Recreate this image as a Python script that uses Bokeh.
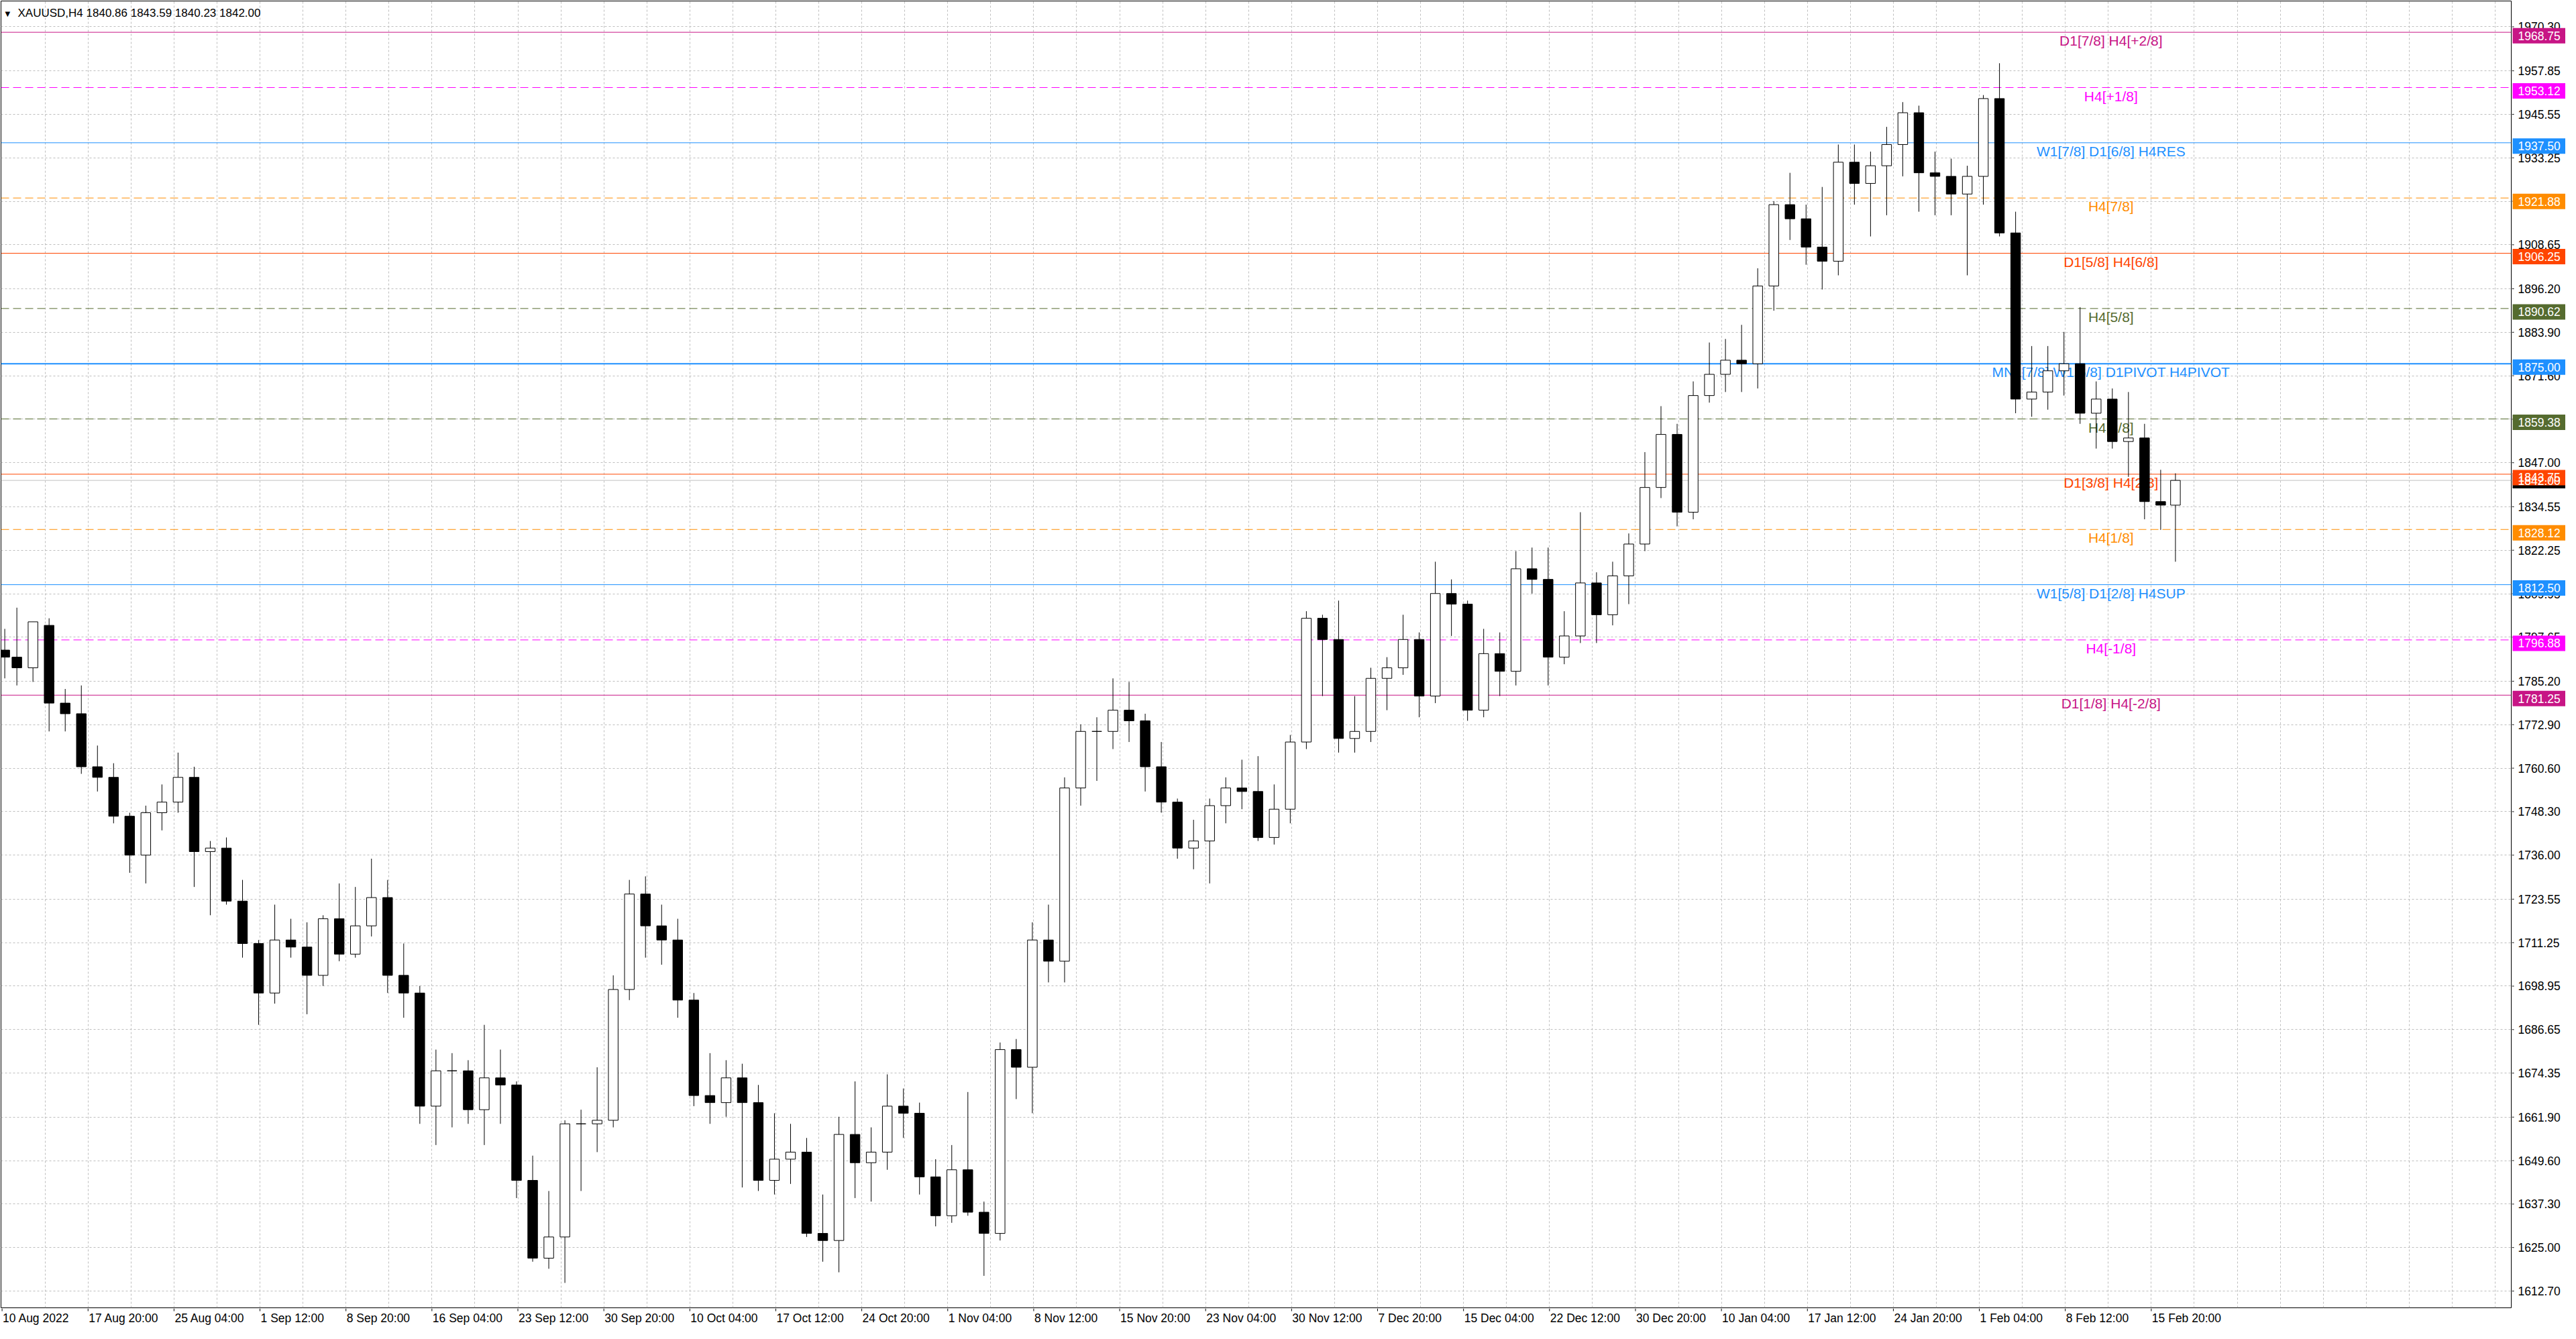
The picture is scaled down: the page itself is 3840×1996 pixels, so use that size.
import numpy as np
from bokeh.plotting import figure
from bokeh.layouts import column, row
from bokeh.models import Range1d, FixedTicker, Span, Label, ColumnDataSource
from bokeh.core.properties import value
from bokeh.embed import file_html
from bokeh.resources import INLINE

# ---------------- data ----------------
symbol_text = "XAUUSD,H4"
last_ohlc = ["1840.86", "1843.59", "1840.23", "1842.00"]
bid_price = 1842.00

days = ["10 Aug", "11 Aug", "12 Aug", "15 Aug", "16 Aug", "17 Aug", "18 Aug", "19 Aug", "22 Aug", "23 Aug",
        "24 Aug", "25 Aug", "26 Aug", "29 Aug", "30 Aug", "31 Aug", "1 Sep", "2 Sep", "5 Sep", "6 Sep",
        "7 Sep", "8 Sep", "9 Sep", "12 Sep", "13 Sep", "14 Sep", "15 Sep", "16 Sep", "19 Sep", "20 Sep",
        "21 Sep", "22 Sep", "23 Sep", "26 Sep", "27 Sep", "28 Sep", "29 Sep", "30 Sep", "3 Oct", "4 Oct",
        "5 Oct", "6 Oct", "7 Oct", "10 Oct", "11 Oct", "12 Oct", "13 Oct", "14 Oct", "17 Oct", "18 Oct",
        "19 Oct", "20 Oct", "21 Oct", "24 Oct", "25 Oct", "26 Oct", "27 Oct", "28 Oct", "31 Oct", "1 Nov",
        "2 Nov", "3 Nov", "4 Nov", "7 Nov", "8 Nov", "9 Nov", "10 Nov", "11 Nov", "14 Nov", "15 Nov",
        "16 Nov", "17 Nov", "18 Nov", "21 Nov", "22 Nov", "23 Nov", "24 Nov", "25 Nov", "28 Nov", "29 Nov",
        "30 Nov", "1 Dec", "2 Dec", "5 Dec", "6 Dec", "7 Dec", "8 Dec", "9 Dec", "12 Dec", "13 Dec",
        "14 Dec", "15 Dec", "16 Dec", "19 Dec", "20 Dec", "21 Dec", "22 Dec", "23 Dec", "27 Dec", "28 Dec",
        "29 Dec", "30 Dec", "3 Jan", "4 Jan", "5 Jan", "6 Jan", "9 Jan", "10 Jan", "11 Jan", "12 Jan",
        "13 Jan", "16 Jan", "17 Jan", "18 Jan", "19 Jan", "20 Jan", "23 Jan", "24 Jan", "25 Jan", "26 Jan",
        "27 Jan", "30 Jan", "31 Jan", "1 Feb", "2 Feb", "3 Feb", "6 Feb", "7 Feb", "8 Feb", "9 Feb",
        "10 Feb", "13 Feb", "14 Feb", "15 Feb", "16 Feb", "17 Feb"]

opens = [1794, 1792, 1789, 1801, 1779, 1776, 1761, 1758, 1747, 1736,
         1748, 1751, 1758, 1737, 1738, 1723, 1711, 1697, 1712, 1710,
         1702, 1718, 1708, 1716, 1724, 1702, 1697, 1665, 1675, 1675,
         1664, 1673, 1671, 1644, 1622, 1628, 1660, 1660, 1661, 1698,
         1725, 1716, 1712, 1695, 1668, 1666, 1673, 1666, 1644, 1650,
         1652, 1629, 1627, 1657, 1649, 1652, 1665, 1663, 1645, 1634,
         1647, 1635, 1629, 1681, 1676, 1712, 1706, 1755, 1771, 1771,
         1777, 1774, 1761, 1751, 1738, 1740, 1750, 1755, 1754, 1741,
         1749, 1768, 1803, 1797, 1769, 1771, 1786, 1789, 1797, 1781,
         1810, 1807, 1777, 1793, 1788, 1817, 1814, 1792, 1798, 1813,
         1804, 1815, 1824, 1840, 1855, 1833, 1866, 1872, 1876, 1875,
         1897, 1920, 1916, 1908, 1904, 1932, 1926, 1931, 1937, 1946,
         1929, 1928, 1923, 1928, 1950, 1912, 1865, 1867, 1873, 1875,
         1861, 1865, 1853, 1854, 1836, 1835]
highs = [1800, 1806, 1802, 1803, 1783, 1784, 1767, 1762, 1748, 1750,
         1756, 1765, 1761, 1740, 1741, 1729, 1712, 1722, 1718, 1717,
         1719, 1728, 1727, 1735, 1729, 1711, 1699, 1681, 1680, 1678,
         1688, 1681, 1672, 1651, 1641, 1661, 1664, 1676, 1702, 1729,
         1730, 1722, 1718, 1697, 1680, 1678, 1677, 1671, 1663, 1660,
         1656, 1640, 1662, 1672, 1659, 1674, 1670, 1666, 1650, 1654,
         1669, 1638, 1683, 1684, 1717, 1722, 1758, 1773, 1775, 1786,
         1785, 1776, 1768, 1752, 1746, 1752, 1758, 1763, 1764, 1756,
         1770, 1805, 1804, 1808, 1781, 1789, 1792, 1804, 1799, 1819,
         1814, 1808, 1800, 1799, 1822, 1823, 1823, 1805, 1833, 1816,
         1819, 1827, 1850, 1863, 1858, 1870, 1881, 1882, 1886, 1902,
         1921, 1929, 1920, 1925, 1937, 1937, 1935, 1942, 1949, 1948,
         1935, 1933, 1931, 1951, 1960, 1918, 1880, 1880, 1884, 1891,
         1870, 1868, 1867, 1858, 1845, 1844]
lows = [1786, 1784, 1785, 1771, 1771, 1759, 1754, 1745, 1731, 1728,
        1743, 1748, 1727, 1719, 1722, 1707, 1688, 1694, 1707, 1691,
        1699, 1706, 1707, 1713, 1697, 1690, 1660, 1654, 1659, 1660,
        1654, 1660, 1639, 1621, 1619, 1615, 1641, 1652, 1659, 1695,
        1707, 1705, 1690, 1665, 1660, 1662, 1642, 1641, 1640, 1643,
        1628, 1621, 1618, 1639, 1638, 1647, 1656, 1640, 1631, 1632,
        1634, 1617, 1627, 1667, 1663, 1700, 1700, 1750, 1757, 1766,
        1768, 1754, 1748, 1735, 1732, 1728, 1745, 1749, 1740, 1739,
        1745, 1766, 1781, 1765, 1765, 1768, 1777, 1787, 1775, 1779,
        1798, 1774, 1775, 1781, 1784, 1810, 1784, 1790, 1796, 1796,
        1801, 1807, 1822, 1837, 1829, 1831, 1864, 1867, 1867, 1868,
        1890, 1910, 1903, 1896, 1900, 1920, 1911, 1917, 1928, 1918,
        1917, 1917, 1900, 1920, 1911, 1861, 1860, 1862, 1866, 1858,
        1851, 1851, 1843, 1831, 1828, 1819]
closes = [1792, 1789, 1802, 1779, 1776, 1761, 1758, 1747, 1736, 1748,
          1751, 1758, 1737, 1738, 1723, 1711, 1697, 1712, 1710, 1702,
          1718, 1708, 1716, 1724, 1702, 1697, 1665, 1675, 1675, 1664,
          1673, 1671, 1644, 1622, 1628, 1660, 1660, 1661, 1698, 1725,
          1716, 1712, 1695, 1668, 1666, 1673, 1666, 1644, 1650, 1652,
          1629, 1627, 1657, 1649, 1652, 1665, 1663, 1645, 1634, 1647,
          1635, 1629, 1681, 1676, 1712, 1706, 1755, 1771, 1771, 1777,
          1774, 1761, 1751, 1738, 1740, 1750, 1755, 1754, 1741, 1749,
          1768, 1803, 1797, 1769, 1771, 1786, 1789, 1797, 1781, 1810,
          1807, 1777, 1793, 1788, 1817, 1814, 1792, 1798, 1813, 1804,
          1815, 1824, 1840, 1855, 1833, 1866, 1872, 1876, 1875, 1897,
          1920, 1916, 1908, 1904, 1932, 1926, 1931, 1937, 1946, 1929,
          1928, 1923, 1928, 1950, 1912, 1865, 1867, 1873, 1875, 1861,
          1865, 1853, 1854, 1836, 1835, 1842]

level_prices = [1968.75, 1953.12, 1937.50, 1921.88, 1906.25, 1890.62, 1875.00,
                1859.38, 1843.75, 1828.12, 1812.50, 1796.88, 1781.25]
level_labels = ["D1[7/8] H4[+2/8]", "H4[+1/8]", "W1[7/8] D1[6/8] H4RES", "H4[7/8]",
                "D1[5/8] H4[6/8]", "H4[5/8]", "MN1[7/8] W1[6/8] D1PIVOT H4PIVOT", "H4[3/8]",
                "D1[3/8] H4[2/8]", "H4[1/8]", "W1[5/8] D1[2/8] H4SUP", "H4[-1/8]", "D1[1/8] H4[-2/8]"]

y_tick_values = [1970.30, 1957.85, 1945.55, 1933.25, 1920.95, 1908.65, 1896.20, 1883.90,
                 1871.60, 1859.30, 1847.00, 1834.55, 1822.25, 1809.95, 1797.65, 1785.20,
                 1772.90, 1760.60, 1748.30, 1736.00, 1723.55, 1711.25, 1698.95, 1686.65,
                 1674.35, 1661.90, 1649.60, 1637.30, 1625.00, 1612.70]

x_tick_labels = ["10 Aug 2022", "17 Aug 20:00", "25 Aug 04:00", "1 Sep 12:00", "8 Sep 20:00",
                 "16 Sep 04:00", "23 Sep 12:00", "30 Sep 20:00", "10 Oct 04:00", "17 Oct 12:00",
                 "24 Oct 20:00", "1 Nov 04:00", "8 Nov 12:00", "15 Nov 20:00", "23 Nov 04:00",
                 "30 Nov 12:00", "7 Dec 20:00", "15 Dec 04:00", "22 Dec 12:00", "30 Dec 20:00",
                 "10 Jan 04:00", "17 Jan 12:00", "24 Jan 20:00", "1 Feb 04:00", "8 Feb 12:00",
                 "15 Feb 20:00"]

# ---------------- styles / layout ----------------
level_colors = ["#C71585", "#FF00FF", "#1E90FF", "#FF8C00", "#FF4500", "#556B2F", "#1E90FF",
                "#556B2F", "#FF4500", "#FF8C00", "#1E90FF", "#FF00FF", "#C71585"]
level_dashed = [False, True, False, True, False, True, False, True, False, True, False, True, False]
level_widths = [1, 1, 1, 1, 1, 1, 2, 1, 1, 1, 1, 1, 1]

FONT = "Liberation Sans"
BARS_PER_DAY = 6
LABEL_EVERY = 32
GRID_EVERY = 16
X_START, X_END = -0.4, 934.0
Y_END = 1977.6
PX_PER_PRICE = 5.27
MAIN_W, MAIN_H = 3744, 1950
RIGHT_W, BOTTOM_H = 80, 30
BORDER = 1
frame_h = MAIN_H - 2 * BORDER
Y_START = Y_END - frame_h / PX_PER_PRICE

# candle positions (H4 bar index scale)
nbars = [3] + [BARS_PER_DAY] * (len(days) - 2) + [5]
starts = np.cumsum([0] + nbars[:-1])
centers = starts + (np.array(nbars) - 1) / 2.0

o = np.array(opens, float); c = np.array(closes, float)
bull = c >= o
src = ColumnDataSource(dict(
    x=centers, top=np.maximum(o, c), bottom=np.minimum(o, c),
    high=np.array(highs, float), low=np.array(lows, float),
    fill=np.where(bull, "white", "black"),
))

x_range = Range1d(X_START, X_END)
y_range = Range1d(Y_START, Y_END)

# ---------------- main chart ----------------
p = figure(width=MAIN_W, height=MAIN_H, x_range=x_range, y_range=y_range,
           x_axis_location=None, y_axis_location=None, toolbar_location=None,
           output_backend="svg", min_border_left=BORDER, min_border_right=BORDER,
           min_border_top=BORDER, min_border_bottom=BORDER)
p.background_fill_color = "white"
p.border_fill_color = "white"
p.outline_line_color = "black"
p.outline_line_width = 1

label_ticks = [i * LABEL_EVERY for i in range(len(x_tick_labels))]
p.xgrid.ticker = FixedTicker(ticks=list(range(GRID_EVERY, int(X_END), GRID_EVERY)))
p.ygrid.ticker = FixedTicker(ticks=y_tick_values)
for g in (p.xgrid, p.ygrid):
    g.grid_line_color = "#BEBEBE"
    g.grid_line_dash = "3 3"
    g.grid_line_width = 1

for price, col, dashed, lw in zip(level_prices, level_colors, level_dashed, level_widths):
    p.add_layout(Span(location=price, dimension="width", line_color=col, line_width=lw,
                      line_dash="12 6" if dashed else "solid", level="underlay"))
p.add_layout(Span(location=bid_price, dimension="width", line_color="#C0C0C0", line_width=1,
                  level="underlay"))

LABEL_BAR = 785
lsrc = ColumnDataSource(dict(x=[LABEL_BAR] * len(level_prices), y=level_prices,
                             text=level_labels, color=level_colors))
p.text(x="x", y="y", text="text", source=lsrc, text_color="color", text_align="center",
       text_baseline="top", text_font=value(FONT), text_font_size="21px", y_offset=1)

p.segment(x0="x", y0="low", x1="x", y1="high", source=src, line_color="black", line_width=1)
p.vbar(x="x", width=3.6, top="top", bottom="bottom", source=src, fill_color="fill",
       line_color="black", line_width=1)

p.add_layout(Label(x=X_START, y=Y_END - 19 / PX_PER_PRICE, x_offset=6, text="\u25BC",
                   text_align="left", text_baseline="middle", text_font="DejaVu Sans",
                   text_font_size="10px", text_color="black"))
p.add_layout(Label(x=X_START, y=Y_END - 18 / PX_PER_PRICE, x_offset=25,
                   text=symbol_text + "  " + " ".join(last_ohlc), text_align="left",
                   text_baseline="middle", text_font=FONT, text_font_size="17px",
                   text_color="black"))

# ---------------- right price scale ----------------
r = figure(width=RIGHT_W, height=MAIN_H, x_range=Range1d(0, RIGHT_W), y_range=y_range,
           x_axis_location=None, y_axis_location=None, toolbar_location=None,
           output_backend="svg", min_border_left=0, min_border_right=0,
           min_border_top=BORDER, min_border_bottom=BORDER)
r.grid.visible = False
r.outline_line_color = None
r.background_fill_color = "white"
r.border_fill_color = "white"

tsrc = ColumnDataSource(dict(y=y_tick_values, text=[f"{v:.2f}" for v in y_tick_values]))
r.segment(x0=0, x1=3, y0="y", y1="y", source=tsrc, line_color="black", line_width=1)
r.text(x=9, y="y", text="text", source=tsrc, text_align="left", text_baseline="middle",
       text_font=value(FONT), text_font_size="17.5px", text_color="black")

tag_prices = [bid_price] + level_prices
tag_colors = ["black"] + level_colors
tag_shift = [0.5] + [5] * len(level_prices)   # px downward offset of tag centre
gsrc = ColumnDataSource(dict(
    y=[pr - s / PX_PER_PRICE for pr, s in zip(tag_prices, tag_shift)],
    text=[f"{pr:.2f}" for pr in tag_prices], color=tag_colors))
r.rect(x=40.5, y="y", width=79, height=23, height_units="screen", source=gsrc,
       fill_color="color", line_color=None)
r.text(x=9, y="y", text="text", source=gsrc, text_align="left", text_baseline="middle",
       text_font=value(FONT), text_font_size="17.5px", text_color="white")

# ---------------- bottom time scale ----------------
b = figure(width=MAIN_W, height=BOTTOM_H, x_range=x_range, y_range=Range1d(0, BOTTOM_H),
           x_axis_location=None, y_axis_location=None, toolbar_location=None,
           output_backend="svg", min_border_left=BORDER, min_border_right=BORDER,
           min_border_top=0, min_border_bottom=0)
b.grid.visible = False
b.outline_line_color = None
b.background_fill_color = "white"
b.border_fill_color = "white"
xsrc = ColumnDataSource(dict(x=label_ticks, text=x_tick_labels))
b.segment(x0="x", x1="x", y0=BOTTOM_H, y1=BOTTOM_H - 4, source=xsrc, line_color="black")
b.text(x="x", y=BOTTOM_H - 14, text="text", source=xsrc, x_offset=1, text_align="left",
       text_baseline="middle", text_font=value(FONT), text_font_size="17.5px",
       text_color="black")

layout = column(row(p, r), b)
open("out.html", "w").write(file_html(layout, INLINE))
